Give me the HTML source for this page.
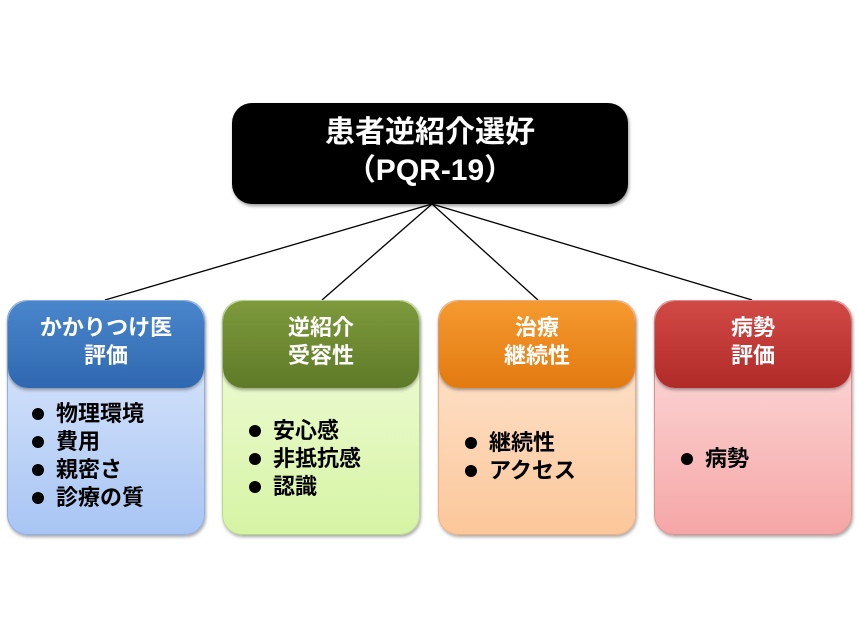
<!DOCTYPE html>
<html><head><meta charset="utf-8"><style>
body{margin:0;width:858px;height:643px;background:#fff;position:relative;font-family:"Liberation Sans","Noto Sans CJK JP",sans-serif;font-weight:bold;overflow:hidden}
.top{position:absolute;left:232px;top:103px;width:396px;height:101px;background:#000;border-radius:20px;color:#fff;font-size:30px;text-align:center;line-height:38px;box-sizing:border-box;padding-top:11px;box-shadow:1px 2px 3px rgba(0,0,0,.4)}
.col{position:absolute;top:300px;width:196px;height:233px;border-radius:20px;box-shadow:1px 2px 3px rgba(0,0,0,.35)}
.hd{position:absolute;left:0;top:0;width:100%;height:87px;border-radius:20px;color:#fff;font-size:22px;text-align:center;line-height:28px;box-sizing:border-box;padding-top:13px;box-shadow:0 2px 3px rgba(0,0,0,.35)}
.li{position:absolute;font-size:22px;color:#000;line-height:28px;white-space:nowrap}
.li span{display:inline-block;width:30px;height:28px;vertical-align:top;position:relative}
.li span::before{content:"";position:absolute;left:6px;top:8px;width:12px;height:12px;border-radius:50%;background:#000}
</style></head><body>
<svg width="858" height="643" style="position:absolute;left:0;top:0">
<g stroke="#000" stroke-width="1.3">
<line x1="432" y1="204" x2="105" y2="300"/><line x1="432" y1="204" x2="322" y2="300"/>
<line x1="432" y1="204" x2="538" y2="300"/><line x1="432" y1="204" x2="752" y2="300"/></g></svg>
<div class="top">患者逆紹介選好<br>（PQR-19）</div>

<div class="col" style="left:7px;background:linear-gradient(#e2ecfc,#a8c5f4);border:1px solid #8fb0e0">
<div class="hd" style="background:linear-gradient(#4a86cc,#2f68b0)">かかりつけ医<br>評価</div>
<div class="li" style="left:18px;top:99px"><span></span>物理環境<br><span></span>費用<br><span></span>親密さ<br><span></span>診療の質</div></div>

<div class="col" style="left:222px;background:linear-gradient(#f3fce0,#d6f4a4);border:1px solid #b8d890">
<div class="hd" style="background:linear-gradient(#7e9a3c,#5f7a28)">逆紹介<br>受容性</div>
<div class="li" style="left:20px;top:116px"><span></span>安心感<br><span></span>非抵抗感<br><span></span>認識</div></div>

<div class="col" style="left:438px;background:linear-gradient(#fee9d8,#fcc79a);border:1px solid #f0b080">
<div class="hd" style="background:linear-gradient(#f59a30,#e27a10)">治療<br>継続性</div>
<div class="li" style="left:20px;top:128px"><span></span>継続性<br><span></span>アクセス</div></div>

<div class="col" style="left:654px;background:linear-gradient(#fde5e5,#f6a6a6);border:1px solid #e09090">
<div class="hd" style="background:linear-gradient(#d24a46,#b02a28)">病勢<br>評価</div>
<div class="li" style="left:20px;top:144px"><span></span>病勢</div></div>
</body></html>
